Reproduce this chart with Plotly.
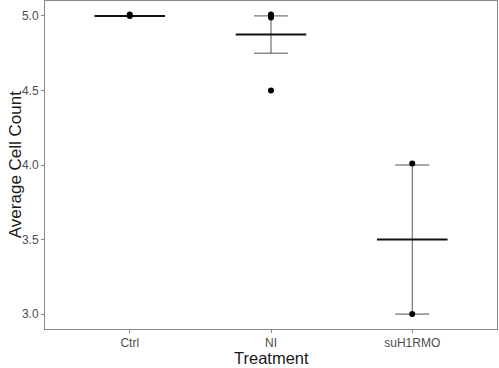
import plotly.graph_objects as go

categories = ["Ctrl", "NI", "suH1RMO"]
cat_pos = [1, 2, 3]

point_cat = [1, 1, 2, 2, 2, 2, 3, 3]
point_vals = [5.01, 5.0, 5.01, 4.99, 5.0, 4.5, 4.01, 3.0]

# group summary: mean and standard error
means = [5.0, 4.875, 3.5]
se = [0.0, 0.125, 0.5]
mean_halfwidth = [0.25, 0.25, 0.25]

yticks = [3.0, 3.5, 4.0, 4.5, 5.0]
ytick_text = ["3.0", "3.5", "4.0", "4.5", "5.0"]

fig = go.Figure()

# error bars (mean +/- se)
fig.add_trace(go.Scatter(
    x=cat_pos, y=means, mode="markers",
    marker=dict(size=1, color="rgba(0,0,0,0)"),
    error_y=dict(type="data", array=se, visible=True, color="#555555",
                 thickness=1, width=17),
    showlegend=False, hoverinfo="skip"))

# mean crossbars
fig.add_trace(go.Scatter(
    x=cat_pos, y=means, mode="markers",
    marker=dict(size=1, color="rgba(0,0,0,0)"),
    error_x=dict(type="data", array=mean_halfwidth, visible=True,
                 color="#111111", thickness=2, width=0),
    showlegend=False, hoverinfo="skip"))

# points
fig.add_trace(go.Scatter(
    x=point_cat, y=point_vals, mode="markers",
    marker=dict(size=6, color="black"),
    showlegend=False))

font = "Liberation Sans, Arial, sans-serif"
fig.update_layout(
    width=499, height=368,
    margin=dict(l=45, r=2, t=1, b=39, autoexpand=False),
    plot_bgcolor="white", paper_bgcolor="white",
    font=dict(family=font),
    annotations=[
        dict(text="Treatment", xref="paper", yref="paper", x=0.5, y=-0.0895,
             xanchor="center", yanchor="middle", showarrow=False,
             font=dict(size=16.5, color="#1a1a1a")),
        dict(text="Average Cell Count", xref="paper", yref="paper", x=-0.066, y=0.5,
             xanchor="center", yanchor="middle", textangle=-90, showarrow=False,
             font=dict(size=17, color="#1a1a1a")),
    ],
)
fig.update_xaxes(
    range=[0.4, 3.6], tickvals=cat_pos, ticktext=categories,
    showgrid=False, zeroline=False, automargin=False,
    showline=True, mirror=True, linecolor="#888888", linewidth=1,
    ticks="outside", ticklen=3, tickcolor="#888888",
    tickfont=dict(size=12, color="#4d4d4d"),
)
fig.update_yaxes(
    range=[2.9, 5.1], tickvals=yticks, ticktext=ytick_text,
    showgrid=False, zeroline=False, automargin=False,
    showline=True, mirror=True, linecolor="#888888", linewidth=1,
    ticks="outside", ticklen=3, tickcolor="#888888",
    tickfont=dict(size=12, color="#4d4d4d"),
)

fig.write_html("out.html", config={"displayModeBar": False},
               post_script="document.body.style.margin='0';")
